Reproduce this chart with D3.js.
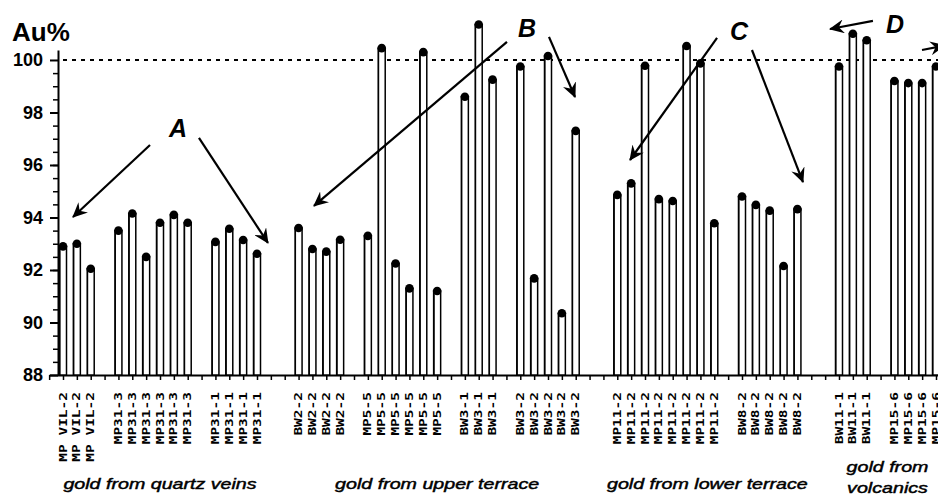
<!DOCTYPE html>
<html>
<head>
<meta charset="utf-8">
<script src="https://cdn.jsdelivr.net/npm/d3@7"></script>
<style>
body { margin: 0; background: #fff; }
svg { display: block; }
.sample { font-family: "DejaVu Sans Mono", monospace; font-weight: bold; font-size: 10px; }
.group { font-family: "Liberation Sans", Arial, sans-serif; font-style: italic; font-size: 15px; stroke: #000; stroke-width: 0.45px; }
.ytick text { font-family: "Liberation Sans", Arial, sans-serif; font-weight: bold; font-size: 18px; }
.letter { font-family: "Liberation Sans", Arial, sans-serif; font-weight: bold; font-style: italic; font-size: 25px; }
</style>
</head>
<body>
<div id="chart"></div>
<script>
// one slot per sample, "" = empty slot between sample groups
var samples = ["MP VIL-2", "MP VIL-2", "MP VIL-2", "",
	"MP31-3", "MP31-3", "MP31-3", "MP31-3", "MP31-3", "MP31-3", "",
	"MP31-1", "MP31-1", "MP31-1", "MP31-1", "", "",
	"BW2-2", "BW2-2", "BW2-2", "BW2-2", "",
	"MP5-5", "MP5-5", "MP5-5", "MP5-5", "MP5-5", "MP5-5", "",
	"BW3-1", "BW3-1", "BW3-1", "",
	"BW3-2", "BW3-2", "BW3-2", "BW3-2", "BW3-2", "", "",
	"MP11-2", "MP11-2", "MP11-2", "MP11-2", "MP11-2", "MP11-2", "MP11-2", "MP11-2", "",
	"BW8-2", "BW8-2", "BW8-2", "BW8-2", "BW8-2", "", "",
	"BW11-1", "BW11-1", "BW11-1", "",
	"MP15-6", "MP15-6", "MP15-6", "MP15-6"];

// Au % per slot (null = empty slot)
var auValues = [92.9, 93.0, 92.05, null,
	93.5, 94.15, 92.5, 93.8, 94.1, 93.8, null,
	93.07, 93.57, 93.14, 92.62, null, null,
	93.6, 92.8, 92.7, 93.15, null,
	93.3, 100.45, 92.25, 91.3, 100.3, 91.2, null,
	98.6, 101.35, 99.25, null,
	99.75, 91.68, 100.15, 90.35, 97.3, null, null,
	94.86, 95.3, 99.78, 94.7, 94.63, 100.53, 99.87, 93.78, null,
	94.8, 94.48, 94.26, 92.15, 94.32, null, null,
	99.75, 101.0, 100.75, null,
	99.2, 99.12, 99.12, 99.75];

var groupNames = [["gold from quartz veins"], ["gold from upper terrace"], ["gold from lower terrace"], ["gold from", "volcanics"]];
var groupMembers = [["MP VIL-2", "MP31-3", "MP31-1"], ["BW2-2", "MP5-5", "BW3-1", "BW3-2"], ["MP11-2", "BW8-2"], ["BW11-1", "MP15-6"]];

var majorTicks = [88, 90, 92, 94, 96, 98, 100];
var pureGold = 100;

// annotation arrows, in chart units (slot, Au%)
var annotations = [
	{ letter: "A", at: [8.3, 97.07], arrows: [[[6.28, 96.76], [0.72, 94.02]], [[9.81, 97.03], [14.79, 93.03]]] },
	{ letter: "B", at: [33.48, 100.88], arrows: [[[32.04, 100.69], [18.11, 94.44]], [[35.07, 100.88], [36.95, 98.59]]] },
	{ letter: "C", at: [48.78, 100.76], arrows: [[[47.2, 100.84], [40.92, 96.19]], [[49.72, 100.38], [53.4, 95.35]]] },
	{ letter: "D", at: [60.04, 101.03], arrows: [[[58.45, 101.49], [55.35, 101.18]], [[61.99, 100.38], [63.6, 100.55]]] }
];

var width = 938, height = 496;

var svg = d3.select("#chart").append("svg")
	.attr("width", width)
	.attr("height", height);

var x = d3.scaleLinear().domain([0, samples.length - 1]).range([63, 936]);
var y = d3.scaleLinear().domain([88, 100.38]).range([375, 50]);

var bars = samples.map(function(s, i) { return { name: s, i: i, v: auValues[i] }; })
	.filter(function(d) { return d.v != null; });

// x axis: a tick under every slot
var xAxisScale = x.copy().domain([-1, samples.length + 0.2]).range([x(-1), x(samples.length + 0.2)]);
var xAxis = svg.append("g")
	.attr("transform", "translate(0," + y(88) + ")")
	.call(d3.axisBottom(xAxisScale).tickValues(d3.range(-1, samples.length + 1)).tickSize(5).tickSizeOuter(0).tickFormat(""));
xAxis.select(".domain").attr("stroke-width", 2);
xAxis.selectAll(".tick line").attr("stroke-width", 1.5);

// y axis
var yMinor = svg.append("g")
	.attr("transform", "translate(58,0)")
	.call(d3.axisLeft(y).tickValues(d3.range(88.5, 100, 0.5)).tickSize(5).tickSizeOuter(0).tickFormat(""));
yMinor.select(".domain").remove();
yMinor.selectAll(".tick line").attr("stroke-width", 1.5);

var yAxis = svg.append("g")
	.attr("class", "ytick")
	.attr("transform", "translate(58,0)")
	.call(d3.axisLeft(y).tickValues(majorTicks).tickSize(8).tickPadding(7).tickSizeOuter(0).tickFormat(d3.format("d")));
yAxis.select(".domain").attr("stroke-width", 2);
yAxis.selectAll(".tick line").attr("stroke-width", 2);
yAxis.selectAll(".tick text").attr("fill", "#000");

svg.append("text")
	.attr("x", 12).attr("y", 41)
	.style("font-family", "Liberation Sans, Arial, sans-serif")
	.style("font-weight", "bold")
	.style("font-size", "26px")
	.text("Au%");

// 100% reference line
svg.append("line")
	.attr("x1", 63).attr("x2", width)
	.attr("y1", y(pureGold)).attr("y2", y(pureGold))
	.attr("stroke", "#000")
	.attr("stroke-width", 2)
	.attr("stroke-dasharray", "4,5");

// bars
svg.selectAll("rect.bar")
	.data(bars)
	.enter()
	.append("rect")
	.attr("class", "bar")
	.attr("x", function(d) { return x(d.i) - 3.5; })
	.attr("width", 7)
	.attr("y", function(d) { return y(d.v); })
	.attr("height", function(d) { return y(88) - y(d.v); })
	.attr("fill", "#fff")
	.attr("stroke", "#000")
	.attr("stroke-width", 1.5);

// thicker left edge, like the scan
svg.selectAll("line.edge")
	.data(bars)
	.enter()
	.append("line")
	.attr("class", "edge")
	.attr("x1", function(d) { return x(d.i) - 3; })
	.attr("x2", function(d) { return x(d.i) - 3; })
	.attr("y1", function(d) { return y(d.v); })
	.attr("y2", y(88))
	.attr("stroke", "#000")
	.attr("stroke-width", 1);

svg.selectAll("circle.top")
	.data(bars)
	.enter()
	.append("circle")
	.attr("class", "top")
	.attr("cx", function(d) { return x(d.i); })
	.attr("cy", function(d) { return y(d.v); })
	.attr("r", 4.3)
	.attr("fill", "#000");

// sample names, rotated
svg.selectAll("text.sample")
	.data(bars)
	.enter()
	.append("text")
	.attr("class", "sample")
	.attr("transform", function(d) { return "translate(" + x(d.i) + ",392) rotate(-90) scale(1.45,1)"; })
	.attr("text-anchor", "end")
	.attr("dy", "0.35em")
	.text(function(d) { return d.name; });

// group names
groupNames.forEach(function(lines, g) {
	var idx = bars.filter(function(d) { return groupMembers[g].indexOf(d.name) >= 0; }).map(function(d) { return d.i; });
	var cx = (x(d3.min(idx)) + x(d3.max(idx))) / 2;
	var y0 = lines.length > 1 ? 472 : 489;
	lines.forEach(function(t, k) {
		svg.append("text")
			.attr("class", "group")
			.attr("text-anchor", "middle")
			.attr("transform", "translate(" + cx + "," + (y0 + k * 21) + ") scale(1.31,1)")
			.text(t);
	});
});

// annotation arrows
svg.append("defs").append("marker")
	.attr("id", "head")
	.attr("markerUnits", "userSpaceOnUse")
	.attr("markerWidth", 16).attr("markerHeight", 14)
	.attr("refX", 14).attr("refY", 7)
	.attr("orient", "auto")
	.append("path")
	.attr("d", "M0,0 L15,7 L0,14 L5,7 Z")
	.attr("fill", "#000");

annotations.forEach(function(a) {
	svg.append("text")
		.attr("class", "letter")
		.attr("text-anchor", "middle")
		.attr("x", x(a.at[0]))
		.attr("y", y(a.at[1]))
		.text(a.letter);
	a.arrows.forEach(function(p) {
		svg.append("line")
			.attr("x1", x(p[0][0])).attr("y1", y(p[0][1]))
			.attr("x2", x(p[1][0])).attr("y2", y(p[1][1]))
			.attr("stroke", "#000")
			.attr("stroke-width", 2.2)
			.attr("marker-end", "url(#head)");
	});
});
</script>
</body>
</html>
